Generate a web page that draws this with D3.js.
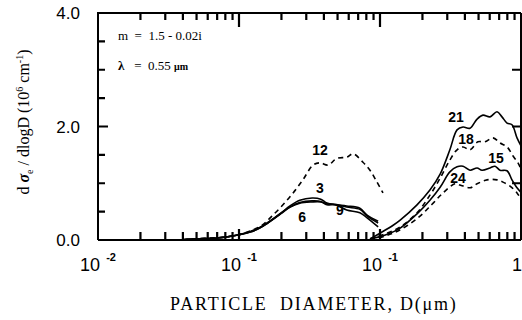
<!DOCTYPE html>
<html><head><meta charset="utf-8">
<script src="https://cdn.jsdelivr.net/npm/d3@7"></script>
<style>
html,body{margin:0;padding:0;background:#fff;}
svg{display:block;}
</style></head>
<body>
<svg id="chart" width="522" height="320"></svg>
<script>
// ---- data ----
const diamSmall = [0.04,0.05,0.07,0.09,0.12,0.14,0.16,0.20,0.23,0.27,0.33,0.38,0.42,0.48,0.58,0.72,0.81,0.97];
const curve3  = [0.005,0.02,0.035,0.07,0.14,0.21,0.30,0.48,0.60,0.70,0.74,0.72,0.65,0.62,0.60,0.56,0.44,0.33];
const curve6  = [0.005,0.02,0.035,0.07,0.15,0.22,0.31,0.48,0.58,0.65,0.67,0.67,0.64,0.62,0.53,0.48,0.39,0.23];
const curve9  = [0.005,0.02,0.035,0.07,0.14,0.21,0.30,0.47,0.58,0.66,0.69,0.68,0.62,0.63,0.58,0.54,0.42,0.30];
const diam12  = [0.04,0.05,0.09,0.12,0.146,0.171,0.205,0.242,0.284,0.335,0.375,0.428,0.495,0.583,0.644,0.757,0.849,0.952,1.05];
const curve12 = [0.005,0.02,0.07,0.16,0.26,0.42,0.62,0.83,1.06,1.32,1.36,1.32,1.44,1.46,1.52,1.37,1.23,1.02,0.83];
const diam21  = [0.85,1.0,1.24,1.39,1.83,2.26,2.67,3.13,3.52,3.88,4.35,4.88,5.37,6.03,6.76,7.33,7.96,8.63,9.37,10.0];
const curve21 = [0.02,0.12,0.26,0.35,0.62,0.88,1.16,1.59,1.94,1.99,1.97,2.13,2.20,2.17,2.26,2.17,2.06,2.03,1.80,1.66];
const diam18  = [0.85,1.09,1.39,1.83,2.26,2.67,3.13,3.52,3.88,4.35,4.95,5.55,6.33,7.10,7.96,8.78,9.52,10.0];
const curve18 = [0.02,0.11,0.23,0.48,0.79,1.09,1.41,1.59,1.64,1.59,1.73,1.73,1.80,1.71,1.64,1.48,1.36,1.25];
const diam15  = [0.85,1.09,1.39,1.83,2.26,2.67,3.13,3.52,3.88,4.35,4.88,5.29,6.03,6.54,7.10,7.96,8.63,9.37,10.0];
const curve15 = [0.02,0.09,0.21,0.46,0.70,0.93,1.20,1.29,1.30,1.23,1.27,1.23,1.27,1.30,1.23,1.22,1.06,0.92,0.84];
const diam24  = [0.85,1.09,1.39,1.86,2.34,2.80,3.40,3.69,4.35,4.88,5.74,6.76,7.45,8.36,9.37,10.0];
const curve24 = [0.0,0.07,0.18,0.39,0.63,0.83,0.99,0.97,0.92,0.99,1.06,1.06,1.02,0.95,0.83,0.72];

const yTickLabels = ["0.0","2.0","4.0"];
const yTickValues = [0,2,4];
const xLabelValues = [0.01,0.1,1,10];
const xLabelBase = ["10","10","10","1"];
const xLabelExp = ["-2","-1","-1",""];
const labelNames = ["12","3","6","9","21","18","15","24"];
const labelDiam  = [0.375,0.375,0.28,0.52,3.46,4.07,6.65,3.57];
const labelVal   = [1.50,0.83,0.32,0.44,2.08,1.69,1.36,1.00];
const series = [
  {d:diam12, v:curve12, dash:true},
  {d:diamSmall, v:curve3, dash:false},
  {d:diamSmall, v:curve6, dash:false},
  {d:diamSmall, v:curve9, dash:false},
  {d:diam21, v:curve21, dash:false},
  {d:diam18, v:curve18, dash:true},
  {d:diam15, v:curve15, dash:false},
  {d:diam24, v:curve24, dash:true}
];

// ---- scales ----
const x = d3.scaleLog().domain([0.01, 10]).range([98, 521]);
const y = d3.scaleLinear().domain([0, 4]).range([240, 13]);
const svg = d3.select("#chart");
svg.append("rect").attr("width",522).attr("height",320).attr("fill","#fff");

svg.append("clipPath").attr("id","clip").append("rect")
  .attr("x",98).attr("y",10).attr("width",424).attr("height",232);

// frame
svg.append("path")
  .attr("d", `M${x(0.01)},${y(0)}H${x(10)}M${x(0.01)},${y(0)}V${y(4)}H${x(10)}M${x(10)},${y(4)}V${y(0)}`)
  .attr("fill","none").attr("stroke","#000").attr("stroke-width",2);

// ---- ticks (as a path built from the scales) ----
const minor = [];
[0.01,0.1,1].forEach(b => { for (let m=2;m<=9;m++) minor.push(b*m); });
const decades = [0.1, 1];
let tickD = "";
function vTicks(vals, y0, len){ vals.forEach(v => { tickD += `M${x(v)},${y0}V${y0+len}`; }); }
function hTicks(vals, x0, len){ vals.forEach(v => { tickD += `M${x0},${y(v)}H${x0+len}`; }); }
vTicks(minor, y(0), -8);
vTicks(decades, y(0), -11);
vTicks(minor, y(4), 7);
vTicks(decades, y(4), 14);
hTicks([0.5,1,1.5,2.5,3,3.5], x(0.01), 7);
hTicks([2], x(0.01), 10);
hTicks([1,2,3], x(10), -9);
svg.append("path").attr("d", tickD).attr("fill","none").attr("stroke","#000").attr("stroke-width",2.2);

// y tick labels
svg.selectAll(".ylab").data(yTickValues).enter().append("text")
  .attr("x",80).attr("y",d=>y(d)+6).attr("text-anchor","end")
  .attr("font-family","Liberation Sans, Arial, sans-serif").attr("font-size",17)
  .text((d,i)=>yTickLabels[i]);

// x tick labels
xLabelValues.forEach((v,i)=>{
  const t = svg.append("text")
    .attr("x", x(v) + (i===3 ? -4 : 0)).attr("y",271).attr("text-anchor","middle")
    .attr("font-family","Liberation Sans, Arial, sans-serif").attr("font-size",18);
  t.append("tspan").text(xLabelBase[i]);
  if (xLabelExp[i]) t.append("tspan").attr("dx",6).attr("dy",-10).attr("font-size",11).attr("font-weight","bold").text(xLabelExp[i]);
});

// x title
const serif = "Liberation Serif, Times New Roman, serif";
svg.append("text").attr("x",170).attr("y",310)
  .attr("font-family",serif).attr("font-size",18).attr("letter-spacing",1.8)
  .text("PARTICLE");
svg.append("text").attr("x",280).attr("y",310)
  .attr("font-family",serif).attr("font-size",18).attr("letter-spacing",1.8)
  .text("DIAMETER, D(\u03bcm)");

// y title
const yt = svg.append("text").attr("transform","translate(29,122) rotate(-90)")
  .attr("text-anchor","middle")
  .attr("font-family",serif).attr("font-size",16);
yt.append("tspan").text("d ");
yt.append("tspan").attr("font-weight","bold").attr("font-style","italic").text("\u03c3");
yt.append("tspan").attr("font-size",10).attr("dy",4).text("e");
yt.append("tspan").attr("dy",-4).text(" / dlogD (10");
yt.append("tspan").attr("font-size",10).attr("dy",-6).text("6");
yt.append("tspan").attr("dy",6).text(" cm");
yt.append("tspan").attr("font-size",10).attr("dy",-6).text("-1");
yt.append("tspan").attr("dy",6).text(")");

// annotations
svg.append("text").attr("x",118).attr("y",40)
  .attr("font-family",serif).attr("font-size",13)
  .attr("xml:space","preserve").text("m  =  1.5 - 0.02i");
const lam = svg.append("text").attr("x",118).attr("y",70)
  .attr("font-family",serif).attr("font-size",13)
  .attr("xml:space","preserve");
lam.append("tspan").attr("font-weight","bold").text("\u03bb");
lam.append("tspan").text("   =  0.55 ");
lam.append("tspan").attr("font-size",10).attr("font-weight","bold").text("\u03bcm");

// curves
const line = d3.line().x(d=>x(d[0])).y(d=>y(d[1])).curve(d3.curveCatmullRom.alpha(0.5));
const cg = svg.append("g").attr("clip-path","url(#clip)");
series.forEach(s=>{
  cg.append("path").datum(s.d.map((dd,i)=>[dd,s.v[i]]))
    .attr("d",line).attr("fill","none").attr("stroke","#000")
    .attr("stroke-width",1.6)
    .attr("stroke-dasharray", s.dash ? "5,4" : null);
});

// curve labels
svg.selectAll(".slab").data(labelNames).enter().append("text")
  .attr("x",(d,i)=>x(labelDiam[i])).attr("y",(d,i)=>y(labelVal[i])).attr("text-anchor","middle")
  .attr("font-family","Liberation Sans, Arial, sans-serif").attr("font-weight","bold").attr("font-size",14)
  .text(d=>d);
</script>
</body></html>
